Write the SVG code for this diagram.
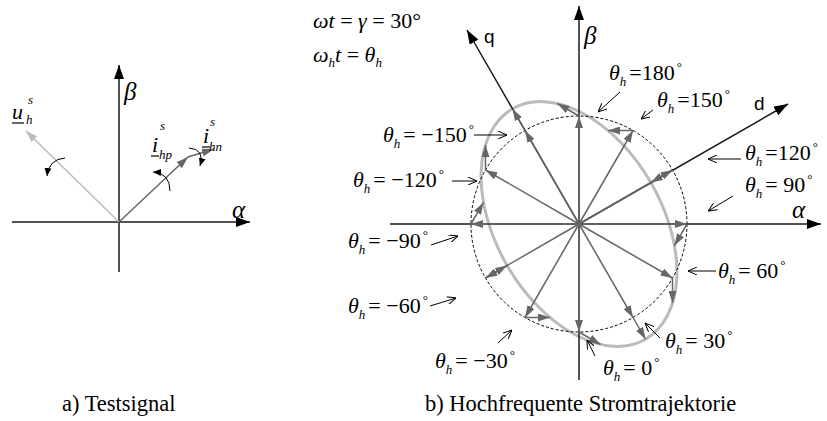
<svg xmlns="http://www.w3.org/2000/svg" width="827" height="421" viewBox="0 0 827 421" font-family="Liberation Serif, Times New Roman, serif">
<style>
.ax{stroke:#1a1a1a;stroke-width:1.5;fill:none;marker-end:url(#ak)}
.rv{stroke:#666;stroke-width:1.5;fill:none;marker-end:url(#ag)}
.lv{stroke:#bbb;stroke-width:1.5;fill:none;marker-end:url(#al)}
.la{stroke:#000;stroke-width:1;fill:none;marker-end:url(#ao)}
.rot{stroke:#000;stroke-width:1;fill:none;marker-end:url(#ar)}
.m{font-size:22px;fill:#000}
.i{font-style:italic}
.s{font-size:13px;font-style:italic}
.d{font-size:13px}
.g{font-size:25px;font-style:italic}
.sf{font-size:19px}
.cap{font-size:22.5px}
</style>
<defs>
<marker id="ak" viewBox="0 0 14 10" refX="14" refY="5" markerWidth="14" markerHeight="10" markerUnits="userSpaceOnUse" orient="auto"><path d="M0,0 L14,5 L0,10 z" fill="#000"/></marker>
<marker id="ag" viewBox="0 0 12 8" refX="12" refY="4" markerWidth="12" markerHeight="8" markerUnits="userSpaceOnUse" orient="auto"><path d="M0,0 L12,4 L0,8 z" fill="#666"/></marker>
<marker id="al" viewBox="0 0 12 8" refX="12" refY="4" markerWidth="12" markerHeight="8" markerUnits="userSpaceOnUse" orient="auto"><path d="M0,0 L12,4 L0,8 z" fill="#bbb"/></marker>
<marker id="ao" viewBox="0 0 9 8" refX="9" refY="4" markerWidth="9" markerHeight="8" markerUnits="userSpaceOnUse" orient="auto"><path d="M0,0 L9,4 L0,8" fill="none" stroke="#000" stroke-width="1"/></marker>
<marker id="ar" viewBox="0 0 8 7" refX="8" refY="3.5" markerWidth="8" markerHeight="7" markerUnits="userSpaceOnUse" orient="auto"><path d="M0,0 L8,3.5 L0,7 z" fill="#000"/></marker>
</defs>
<rect width="827" height="421" fill="#fff"/>

<!-- Panel a -->
<g id="panel-a">
<g id="a-axes">
<line class="ax" x1="12" y1="222" x2="250" y2="222"/>
<line class="ax" x1="119" y1="272" x2="119" y2="65"/>
<text class="g" x="232" y="218">α</text>
<text class="g" x="124" y="100">β</text>
</g>
<g id="a-connectors">
<line class="lv" x1="119" y1="222" x2="26" y2="131"/>
<line class="rv" x1="119" y1="222" x2="188" y2="157"/>
<line class="rv" x1="188" y1="157" x2="214" y2="149"/>
<path class="rot" d="M65,158 Q49,159 47,176"/>
<path class="rot" d="M170,191 Q170,173 153,172"/>
<path class="rot" d="M189,148 Q205,149 200,166"/>
</g>
<g id="a-u">
<text class="m i" x="12" y="119">u</text>
<line x1="12" y1="123" x2="24" y2="123" stroke="#000" stroke-width="1.2"/>
<text class="m s" x="28" y="104">s</text>
<text class="m s" x="26" y="124">h</text>
</g>
<g id="a-ihp">
<text class="m i" x="152" y="152">i</text>
<line x1="151" y1="156" x2="159" y2="156" stroke="#000" stroke-width="1.2"/>
<text class="m s" x="160" y="130">s</text>
<text class="m s" x="159" y="159">hp</text>
</g>
<g id="a-ihn">
<text class="m i" x="203" y="143">i</text>
<line x1="202" y1="147" x2="210" y2="147" stroke="#000" stroke-width="1.2"/>
<text class="m s" x="210" y="126">s</text>
<text class="m s" x="209" y="151">hn</text>
</g>
<text class="cap" x="62" y="411">a) Testsignal</text>
</g>

<!-- Panel b -->
<g id="panel-b">
<g id="b-formula">
<text class="m" x="313" y="28"><tspan class="i">ωt</tspan> = <tspan class="i">γ</tspan> = 30°</text>
<text class="m" x="313" y="62"><tspan class="i">ω</tspan><tspan class="s" dy="5">h</tspan><tspan class="i" dy="-5">t</tspan> = <tspan class="i">θ</tspan><tspan class="s" dy="5">h</tspan></text>
</g>
<ellipse id="trajectory" cx="579" cy="224" rx="133" ry="83" transform="rotate(60 579 224)" fill="none" stroke="#bbb" stroke-width="3"/>
<circle id="circle" cx="579" cy="224" r="108" fill="none" stroke="#000" stroke-width="1" stroke-dasharray="3,2"/>
<g id="b-axes">
<line class="ax" x1="390" y1="224" x2="821" y2="224"/>
<line class="ax" x1="579" y1="380" x2="579" y2="6"/>
<line class="ax" x1="579" y1="224" x2="467" y2="30"/>
<line class="ax" x1="579" y1="224" x2="788" y2="104"/>
<text class="g" x="792" y="218">α</text>
<text class="g" x="584" y="44">β</text>
<text class="sf" x="484" y="43" font-family="Liberation Sans, Arial, sans-serif">q</text>
<text class="sf" x="754" y="110" font-family="Liberation Sans, Arial, sans-serif">d</text>
</g>
<g id="b-connectors">
<line class="rv" x1="579" y1="224" x2="579" y2="116"/>
<line class="rv" x1="579" y1="224" x2="525" y2="130.5"/>
<line class="rv" x1="579" y1="224" x2="485.5" y2="170"/>
<line class="rv" x1="579" y1="224" x2="471" y2="224"/>
<line class="rv" x1="579" y1="224" x2="485.5" y2="278"/>
<line class="rv" x1="579" y1="224" x2="525" y2="317.5"/>
<line class="rv" x1="579" y1="224" x2="579" y2="332"/>
<line class="rv" x1="579" y1="224" x2="633" y2="317.5"/>
<line class="rv" x1="579" y1="224" x2="672.5" y2="278"/>
<line class="rv" x1="579" y1="224" x2="687" y2="224"/>
<line class="rv" x1="579" y1="224" x2="672.5" y2="170"/>
<line class="rv" x1="579" y1="224" x2="633" y2="130.5"/>
<line class="rv" x1="579" y1="116" x2="557.4" y2="103.5"/>
<line class="rv" x1="525" y1="130.5" x2="512.5" y2="108.8"/>
<line class="rv" x1="485.5" y1="170" x2="485.5" y2="145"/>
<line class="rv" x1="471" y1="224" x2="483.5" y2="202.4"/>
<line class="rv" x1="485.5" y1="278" x2="507.1" y2="265.5"/>
<line class="rv" x1="525" y1="317.5" x2="550" y2="317.5"/>
<line class="rv" x1="579" y1="332" x2="600.6" y2="344.5"/>
<line class="rv" x1="633" y1="317.5" x2="645.5" y2="339.2"/>
<line class="rv" x1="672.5" y1="278" x2="672.5" y2="303"/>
<line class="rv" x1="687" y1="224" x2="674.5" y2="245.6"/>
<line class="rv" x1="672.5" y1="170" x2="650.9" y2="182.5"/>
<line class="rv" x1="633" y1="130.5" x2="608" y2="130.5"/>
<line class="la" x1="620" y1="92" x2="598" y2="112"/>
<line class="la" x1="653" y1="110" x2="641" y2="119"/>
<line class="la" x1="741" y1="159" x2="708" y2="159"/>
<line class="la" x1="733" y1="196" x2="708" y2="211"/>
<line class="la" x1="716" y1="271" x2="688" y2="271"/>
<line class="la" x1="660" y1="338" x2="645" y2="323"/>
<line class="la" x1="595" y1="356" x2="587" y2="340"/>
<line class="la" x1="498" y1="343" x2="512" y2="330"/>
<line class="la" x1="430" y1="306" x2="456" y2="298"/>
<line class="la" x1="431" y1="245" x2="458" y2="236"/>
<line class="la" x1="452" y1="181" x2="477" y2="181"/>
<line class="la" x1="474" y1="135" x2="507" y2="135"/>
</g>
<g id="lbl-180"><text class="m" x="609" y="80"><tspan class="i">θ</tspan><tspan class="s" dy="6">h</tspan><tspan dy="-6" dx="3">=180</tspan><tspan class="d" dy="-9" dx="2">°</tspan></text></g>
<g id="lbl-150"><text class="m" x="657" y="107"><tspan class="i">θ</tspan><tspan class="s" dy="6">h</tspan><tspan dy="-6" dx="3">=150</tspan><tspan class="d" dy="-9" dx="2">°</tspan></text></g>
<g id="lbl-120"><text class="m" x="745" y="160"><tspan class="i">θ</tspan><tspan class="s" dy="6">h</tspan><tspan dy="-6" dx="3">=120</tspan><tspan class="d" dy="-9" dx="2">°</tspan></text></g>
<g id="lbl-90"><text class="m" x="745" y="192"><tspan class="i">θ</tspan><tspan class="s" dy="6">h</tspan><tspan dy="-6" dx="3">= 90</tspan><tspan class="d" dy="-9" dx="2">°</tspan></text></g>
<g id="lbl-60"><text class="m" x="718" y="278"><tspan class="i">θ</tspan><tspan class="s" dy="6">h</tspan><tspan dy="-6" dx="3">= 60</tspan><tspan class="d" dy="-9" dx="2">°</tspan></text></g>
<g id="lbl-30"><text class="m" x="665" y="348"><tspan class="i">θ</tspan><tspan class="s" dy="6">h</tspan><tspan dy="-6" dx="3">= 30</tspan><tspan class="d" dy="-9" dx="2">°</tspan></text></g>
<g id="lbl-0"><text class="m" x="603" y="375"><tspan class="i">θ</tspan><tspan class="s" dy="6">h</tspan><tspan dy="-6" dx="3">= 0</tspan><tspan class="d" dy="-9" dx="2">°</tspan></text></g>
<g id="lbl-m30"><text class="m" x="435" y="368"><tspan class="i">θ</tspan><tspan class="s" dy="6">h</tspan><tspan dy="-6" dx="3">= −30</tspan><tspan class="d" dy="-9" dx="2">°</tspan></text></g>
<g id="lbl-m60"><text class="m" x="348" y="313"><tspan class="i">θ</tspan><tspan class="s" dy="6">h</tspan><tspan dy="-6" dx="3">= −60</tspan><tspan class="d" dy="-9" dx="2">°</tspan></text></g>
<g id="lbl-m90"><text class="m" x="348" y="248"><tspan class="i">θ</tspan><tspan class="s" dy="6">h</tspan><tspan dy="-6" dx="3">= −90</tspan><tspan class="d" dy="-9" dx="2">°</tspan></text></g>
<g id="lbl-m120"><text class="m" x="353" y="187"><tspan class="i">θ</tspan><tspan class="s" dy="6">h</tspan><tspan dy="-6" dx="3">= −120</tspan><tspan class="d" dy="-9" dx="2">°</tspan></text></g>
<g id="lbl-m150"><text class="m" x="383" y="142"><tspan class="i">θ</tspan><tspan class="s" dy="6">h</tspan><tspan dy="-6" dx="3">= −150</tspan><tspan class="d" dy="-9" dx="2">°</tspan></text></g>
<text class="cap" x="425" y="411">b) Hochfrequente Stromtrajektorie</text>
</g>
</svg>
